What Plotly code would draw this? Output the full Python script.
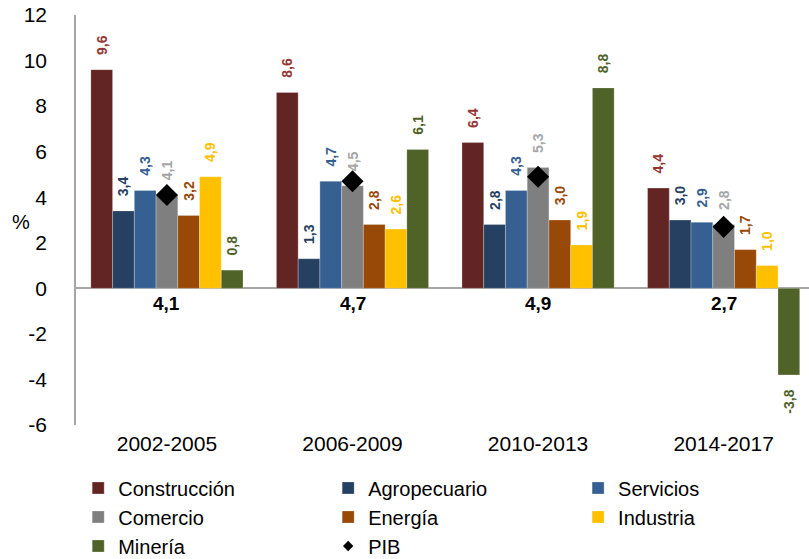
import plotly.graph_objects as go

periods = ["2002-2005", "2006-2009", "2010-2013", "2014-2017"]
construccion = [9.6, 8.6, 6.4, 4.4]
agropecuario = [3.4, 1.3, 2.8, 3.0]
servicios = [4.3, 4.7, 4.3, 2.9]
comercio = [4.1, 4.5, 5.3, 2.8]
energia = [3.2, 2.8, 3.0, 1.7]
industria = [4.9, 2.6, 1.9, 1.0]
mineria = [0.8, 6.1, 8.8, -3.8]
pib = [4.1, 4.7, 4.9, 2.7]
y_ticks = [-6, -4, -2, 0, 2, 4, 6, 8, 10, 12]
y_ticktext = ["-6", "-4", "-2", "0", "2", "4", "6", "8", "10", "12"]

PAD = "\u00a0\u00a0\u00a0"


def fmt(v):
    return f"{v:.1f}".replace(".", ",")


def bar_label(v):
    # keep a small gap between the bar end and its rotated label
    return PAD + fmt(v) if v >= 0 else fmt(v) + PAD


series = [
    ("Construcción", construccion, "#632523", "#953735", "legend"),
    ("Agropecuario", agropecuario, "#254061", "#254061", "legend2"),
    ("Servicios", servicios, "#376092", "#376092", "legend3"),
    ("Comercio", comercio, "#7F7F7F", "#A6A6A6", "legend"),
    ("Energía", energia, "#984807", "#984807", "legend2"),
    ("Industria", industria, "#FFC000", "#FFC000", "legend3"),
    ("Minería", mineria, "#4F6228", "#4F6228", "legend"),
]

FONT = "Liberation Sans, Arial, sans-serif"

fig = go.Figure()
for name, vals, col, lcol, leg in series:
    fig.add_trace(go.Bar(
        name=name, x=periods, y=vals, legend=leg,
        marker=dict(color=col, line=dict(color="rgba(255,255,255,0.5)", width=0.5)),
        text=[bar_label(v) for v in vals], texttemplate="%{text}", textposition="outside",
        textangle=-90, constraintext="none", cliponaxis=False,
        textfont=dict(color=lcol, size=14, family=FONT, weight="bold"),
    ))

fig.add_trace(go.Scatter(
    x=periods, y=pib, mode="markers", showlegend=False, name="PIB",
    marker=dict(symbol="diamond", size=17, color="black"),
))
fig.add_trace(go.Scatter(
    x=[None], y=[None], mode="markers", name="PIB", legend="legend2",
    marker=dict(symbol="diamond", size=8, color="black"),
))

for p, v in zip(periods, pib):
    fig.add_annotation(x=p, y=0, yshift=-15, text=f"<b>{fmt(v)}</b>",
                       showarrow=False, font=dict(size=19, color="black", family=FONT))

fig.add_annotation(xref="paper", yref="paper", x=-0.075, y=0.495, text="%",
                   showarrow=False, xanchor="center", yanchor="middle",
                   font=dict(size=20, color="black", family=FONT))

leg_common = dict(orientation="v", yref="container", xref="paper", y=0.162,
                  yanchor="top", xanchor="left", font=dict(size=20, family=FONT),
                  itemwidth=30, tracegroupgap=0, bgcolor="rgba(0,0,0,0)")

fig.update_layout(
    width=809, height=559,
    margin=dict(l=76, r=0, t=15, b=134),
    barmode="group", bargap=0.18, bargroupgap=0,
    separators=",.",
    plot_bgcolor="white", paper_bgcolor="white",
    font=dict(family=FONT, size=21, color="black"),
    xaxis=dict(range=[-0.49, 3.46], showline=False, ticks="", showgrid=False,
               zeroline=False, tickfont=dict(size=21), automargin=False,
               ticklabelstandoff=4),
    yaxis=dict(range=[-6, 12], tickvals=y_ticks, ticktext=y_ticktext,
               showgrid=False, showline=True,
               linecolor="#A6A6A6", linewidth=1.5, zeroline=True,
               zerolinecolor="#A6A6A6", zerolinewidth=1.5, ticks="",
               ticklabelstandoff=23, tickfont=dict(size=21), automargin=False),
    legend=dict(x=0.003, **leg_common),
    legend2=dict(x=0.344, **leg_common),
    legend3=dict(x=0.685, **leg_common),
    showlegend=True,
)

fig.write_html("out.html", config={"displayModeBar": False},
               post_script="document.body.style.margin='0px';")
